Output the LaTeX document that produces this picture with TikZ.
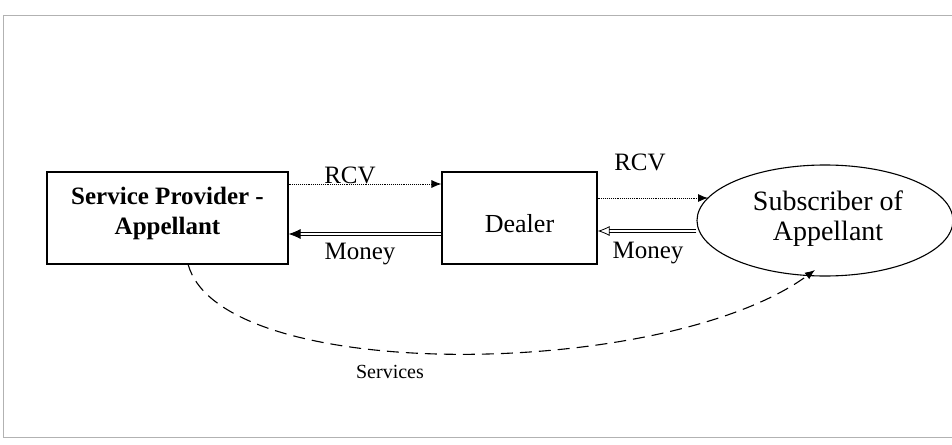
\documentclass[tikz,border=0pt]{standalone}
\usepackage{fontspec}
\setmainfont{Liberation Serif}
\usetikzlibrary{arrows.meta,shapes.geometric}
\begin{document}
\begin{tikzpicture}[x=1pt,y=-1pt,
  boxnode/.style={draw,line width=1.1pt,align=center,inner sep=0pt},
  lbl/.style={font=\fontsize{25}{30}\selectfont},
  dotarrow/.style={densely dotted,line width=0.9pt,-{Latex[length=10pt,width=8pt]}},
  dblarrow/.style={double,double distance=2pt,line width=0.8pt,-{Latex[length=12pt,width=10pt]}},
  frameline/.style={gray!60,line width=0.8pt}]
\useasboundingbox (0,0) rectangle (952,444);
\draw[frameline] (3,15) -- (952,15);
\draw[frameline] (3,15) -- (3,437) -- (952,437);
\node[boxnode,minimum width=241pt,minimum height=92pt] (sp) at (167.5,218) {};
\node[font=\fontsize{25}{30}\selectfont\bfseries,align=center] (spt) at (167.5,213) {Service Provider -\\Appellant};
\node[boxnode,minimum width=155pt,minimum height=92pt] (dl) at (519.5,218) {};
\node[font=\fontsize{26}{30}\selectfont] (dlt) at (519.5,224) {Dealer};
\node[draw,ellipse,line width=1.1pt,minimum width=256pt,minimum height=111pt,inner sep=0pt] (sub) at (825,220.5) {};
\node[font=\fontsize{28}{30}\selectfont,align=center] (subt) at (828,219) {Subscriber of\\Appellant};
\draw[dotarrow] (sp.east |- 0,184) -- (dl.west |- 0,184);
\node[lbl] (rcv1) at (350,175) {RCV};
\draw[dblarrow] (dl.west |- 0,234) -- (sp.east |- 0,234);
\node[lbl] (mon1) at (360,254) {Money};
\coordinate (r2e) at (708,198);
\draw[dotarrow] (dl.east |- 0,198) -- (r2e);
\node[lbl] (rcv2) at (640,162) {RCV};
\draw[double,double distance=2pt,line width=0.8pt,-{Latex[open,length=12pt,width=10pt]}] (sub.west |- 0,231) -- (dl.east |- 0,231);
\node[lbl] (mon2) at (648,253) {Money};
\coordinate (sv1) at (188,264);
\coordinate (sv2) at (815,270);
\draw[dashed,dash pattern=on 12pt off 7pt,line width=1.1pt,-{Latex[length=10pt,width=8pt]}] (sv1) .. controls (220,385) and (665,380) .. (sv2);
\node[font=\fontsize{20}{24}\selectfont] (svl) at (390,372) {Services};
\end{tikzpicture}
\end{document}
